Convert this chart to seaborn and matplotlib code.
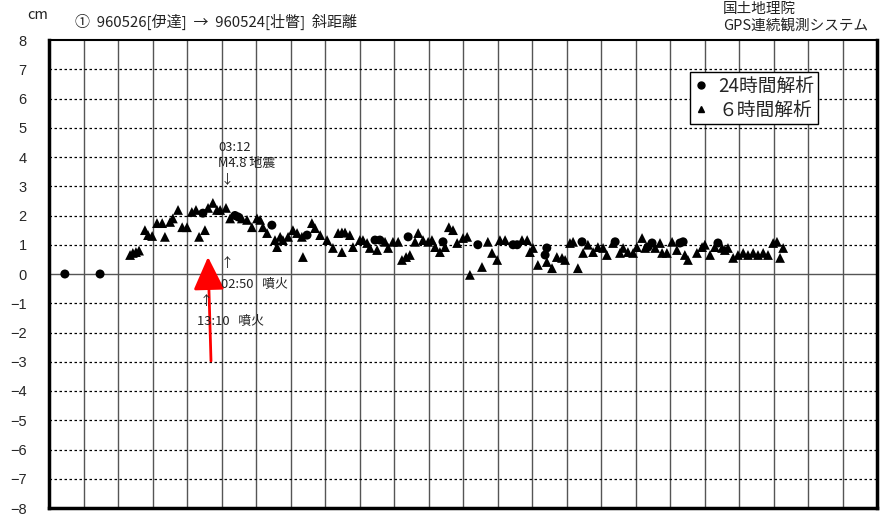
import matplotlib
matplotlib.use("Agg")
import matplotlib.pyplot as plt
import seaborn as sns
import pandas as pd
from matplotlib.lines import Line2D

# ---- data (x in grid-column units, y in cm) ----
tri_x = [2.35, 2.43, 2.52, 2.61, 2.78, 2.87, 2.99, 3.13, 3.28, 3.36, 3.51, 3.59, 3.74, 3.86, 4.00,
         4.14, 4.26, 4.35, 4.52, 4.61, 4.75, 4.87, 4.96, 5.13, 5.25, 5.59, 5.74, 5.88, 6.03, 6.12,
         6.20, 6.32, 6.55, 6.61, 6.70, 6.78, 6.93, 7.07, 7.19, 7.33, 7.36, 7.62, 7.71, 7.86, 8.06,
         8.23, 8.38, 8.49, 8.58, 8.49, 8.72, 8.81, 9.01, 9.10, 9.22, 9.30, 9.51, 9.74, 9.83, 9.97,
         10.12, 10.23, 10.35, 10.46, 10.61, 10.70, 10.84, 10.99, 11.10, 11.19, 11.33, 11.48, 11.59,
         11.71, 11.83, 12.00, 12.12, 12.20, 12.55, 12.72, 12.84, 12.99, 13.07, 13.22, 13.71, 13.86,
         13.94, 14.03, 14.17, 14.43, 14.58, 14.72, 14.87, 14.96, 15.10, 15.19, 15.33, 15.48, 15.62,
         15.77, 15.91, 16.06, 16.17, 16.35, 16.55, 16.64, 16.78, 16.93, 17.04, 17.19, 17.28, 17.57,
         17.71, 17.77, 17.91, 18.06, 18.20, 18.43, 18.52, 18.78, 18.93, 19.01, 19.16, 19.30, 19.51,
         19.59, 19.68, 19.83, 19.97, 20.12, 20.26, 20.41, 20.55, 20.70, 20.84, 20.99, 21.10, 21.19,
         21.28]
tri_y = [0.65, 0.72, 0.75, 0.80, 1.50, 1.33, 1.30, 1.74, 1.74, 1.27, 1.78, 1.90, 2.19, 1.60, 1.60,
         2.12, 2.19, 1.27, 1.50, 2.26, 2.43, 2.19, 2.19, 2.26, 1.90, 1.90, 1.85, 1.60, 1.90, 1.85,
         1.60, 1.40, 1.16, 0.92, 1.27, 1.16, 1.27, 1.50, 1.40, 1.27, 0.58, 1.74, 1.57, 1.33, 1.16,
         0.89, 1.40, 1.42, 1.42, 0.75, 1.33, 0.92, 1.16, 1.16, 1.06, 0.89, 0.82, 1.10, 0.89, 1.10,
         1.10, 0.48, 0.58, 0.65, 1.10, 1.40, 1.16, 1.10, 1.16, 0.92, 0.75, 0.92, 1.60,
         1.50, 1.06, 1.23, 1.27, -0.03, 0.24, 1.10, 0.72, 0.48, 1.16, 1.16, 1.16, 1.16,
         0.75, 0.89, 0.31, 0.41, 0.20, 0.58, 0.55, 0.48, 1.06, 1.10, 0.20, 0.72, 1.00,
         0.75, 0.92, 0.89, 0.65, 1.06, 0.72, 0.89, 0.75, 0.72, 0.92, 1.23, 0.89, 0.89,
         1.06, 0.72, 0.72, 1.10, 0.82, 0.65, 0.48, 0.72, 0.92, 1.00, 0.65, 0.92, 0.89,
         0.82, 0.89, 0.55, 0.65, 0.72, 0.65, 0.72, 0.65, 0.72, 0.65, 1.06, 1.10, 0.55,
         0.89]

dot_x = [0.46, 1.48, 4.46, 5.39, 5.48, 6.46, 7.48, 9.45, 9.59, 10.41, 11.42, 12.43, 13.45, 13.57,
         14.38, 14.43, 15.45, 16.41, 17.36, 17.48, 18.29, 18.38, 19.39]
dot_y = [0.00, 0.00, 2.08, 2.00, 1.95, 1.67, 1.33, 1.16, 1.16, 1.27, 1.10, 1.00, 1.00, 1.00,
         0.65, 0.89, 1.10, 1.10, 0.92, 1.06, 1.06, 1.10, 1.06]

y_ticks = list(range(-8, 9))
y_labels = [str(v).replace("-", "\u2212") for v in y_ticks]
n_cols = 24

legend_labels = ["24時間解析", "６時間解析"]
title_text = "①  960526[伊達]  →  960524[壮瞥]  斜距離"
org_text = ["国土地理院", "GPS連続観測システム"]

sns.set_theme(style="white")
plt.rcParams["font.family"] = ["Noto Sans CJK JP", "DejaVu Sans"]
plt.rcParams["axes.unicode_minus"] = True

fig = plt.figure(figsize=(8.88, 5.18), dpi=100)
ax = fig.add_axes([49 / 888, 10 / 518, 828 / 888, 468 / 518])

tri_df = pd.DataFrame({"x": tri_x, "y": tri_y})
dot_df = pd.DataFrame({"x": dot_x, "y": dot_y})

# grid
for i in range(1, n_cols):
    ax.axvline(i, color="#555555", lw=1.0, zorder=1)
for v in y_ticks:
    if v == 0:
        ax.axhline(0, color="#555555", lw=1.0, zorder=1)
    elif abs(v) != 8:
        ax.axhline(v, color="black", lw=0.9, ls=(0, (2, 2)), zorder=1)

sns.scatterplot(data=tri_df, x="x", y="y", marker="^", color="black", s=50,
                edgecolor="none", ax=ax, zorder=3, legend=False)
sns.scatterplot(data=dot_df, x="x", y="y", marker="o", color="black", s=42,
                edgecolor="none", ax=ax, zorder=3, legend=False)

ax.set_xlim(0, n_cols)
ax.set_ylim(-8, 8)
ax.set_xticks([])
ax.set_yticks(y_ticks)
ax.set_yticklabels(y_labels, fontsize=10.5, family=["Liberation Sans", "DejaVu Sans"])
ax.tick_params(axis="y", length=0, pad=16)
ax.set_xlabel("")
ax.set_ylabel("")
for side, lw in [("left", 2.5), ("bottom", 2.5), ("right", 2.5), ("top", 1.5)]:
    ax.spines[side].set_visible(True)
    ax.spines[side].set_color("black")
    ax.spines[side].set_linewidth(lw)

# legend
handles = [Line2D([], [], marker="o", color="black", ls="none", markersize=5),
           Line2D([], [], marker="^", color="black", ls="none", markersize=5)]
leg = ax.legend(handles, legend_labels, loc="upper left", bbox_to_anchor=(641 / 828, 1 - 32 / 468),
                frameon=True, fancybox=False, framealpha=1, edgecolor="black",
                fontsize=13.5, handlelength=0.8, handletextpad=0.5, borderpad=0.2,
                labelspacing=0.15, borderaxespad=0)
leg.get_frame().set_linewidth(1.0)
leg.set_zorder(5)

# header texts
fig.text(27 / 888, 1 - 15 / 518, "cm", fontsize=10.5, va="center", ha="left", color="#222222")
fig.text(75 / 888, 1 - 22 / 518, title_text, fontsize=10.8, va="center", ha="left", color="#222222")
fig.text(723 / 888, 1 - 9 / 518, org_text[0], fontsize=10.5, va="center", ha="left", color="#222222")
fig.text(723 / 888, 1 - 26 / 518, org_text[1], fontsize=10.5, va="center", ha="left", color="#222222")

# annotations (positions in data units)
def px2x(px):
    return (px - 49) / 34.5

def py2y(py):
    return (274 - py) / 29.25

ann_kw = dict(fontsize=9.3, color="#222222", va="center", ha="left", zorder=8)
ax.text(px2x(218), py2y(147), "03:12", **ann_kw)
ax.text(px2x(218), py2y(163), "M4.8 地震", **ann_kw)
ax.text(px2x(221), py2y(180), "↓", **ann_kw)
ax.text(px2x(221), py2y(264), "↑", **ann_kw)
ax.text(px2x(221), py2y(284), "02:50   噴火", **ann_kw)
ax.text(px2x(200), py2y(301), "↑", **ann_kw)
ax.text(px2x(197), py2y(321), "13:10   噴火", **ann_kw)

# red arrow
ax.annotate("", xy=(px2x(208), py2y(257)), xytext=(px2x(211), py2y(361)),
            arrowprops=dict(arrowstyle="-|>,head_length=1.7,head_width=0.8", color="red", lw=2.0,
                            shrinkA=0, shrinkB=0), zorder=7)

fig.savefig("out.png", dpi=100)
